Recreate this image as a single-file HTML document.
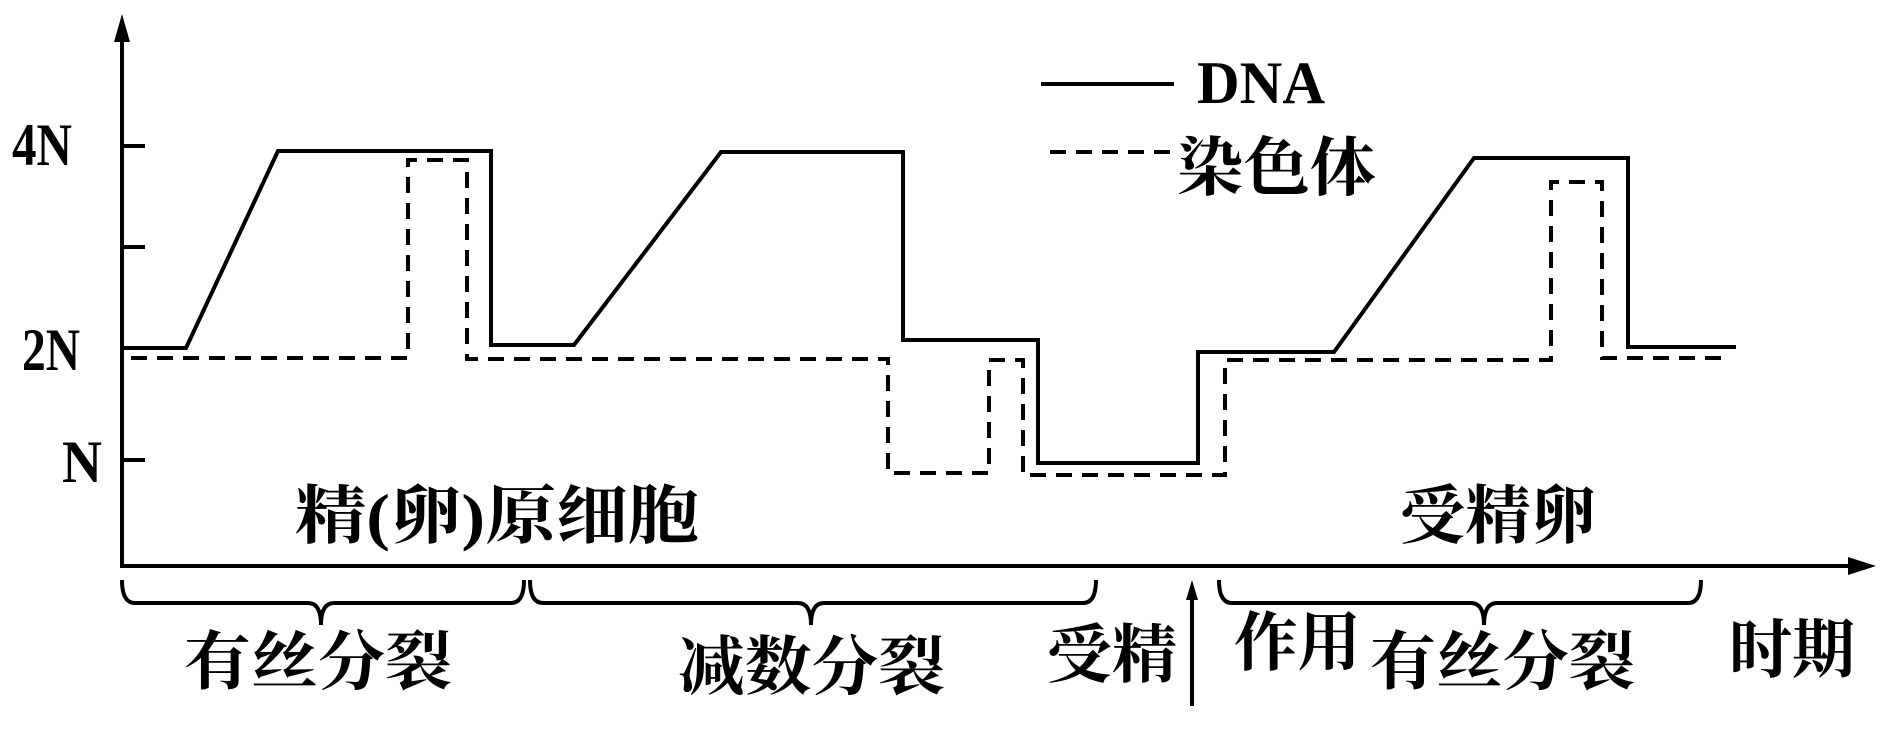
<!DOCTYPE html>
<html><head><meta charset="utf-8"><style>
html,body{margin:0;padding:0;background:#fff;}
svg{display:block;}
text{font-family:"Liberation Serif","Noto Serif CJK SC",serif;fill:#000;}
</style></head><body>
<svg width="1890" height="731" viewBox="0 0 1890 731" xmlns="http://www.w3.org/2000/svg">
<g stroke="#000" stroke-width="4" fill="none">
<line x1="122" y1="30" x2="122" y2="566"/>
<line x1="120" y1="566" x2="1860" y2="566"/>
<line x1="122" y1="146" x2="145" y2="146"/>
<line x1="122" y1="247" x2="145" y2="247"/>
<line x1="122" y1="348" x2="145" y2="348"/>
<line x1="122" y1="460" x2="145" y2="460"/>
<polyline points="124,348 186,348 278,151 491,151 491,345 574,345 721,152 903,152 903,340 1038,340 1038,463 1198,463 1198,352 1334,352 1474,158 1628,158 1628,347 1736,347"/>
<polyline stroke-dasharray="16,10" points="131,358 408,358 408,160 467,160 467,359 888,359 888,473 989,473 989,360 1023,360 1023,475 1032,475 1225,475 1225,360 1551,360 1551,182 1602,182 1602,358 1729,358"/>
<line x1="1041" y1="84" x2="1174" y2="84"/>
<line x1="1050" y1="152" x2="1171" y2="152" stroke-dasharray="16,10"/>
<path d="M122,580 Q122,603 135,603 L308,603 Q321,603 321,625 Q321,603 334,603 L511,603 Q524,603 524,580"/>
<path d="M530,580 Q530,603 543,603 L798,603 Q811,603 811,625 Q811,603 824,603 L1083,603 Q1096,603 1096,580"/>
<path d="M1219,580 Q1219,603 1232,603 L1471,603 Q1484,603 1484,625 Q1484,603 1497,603 L1688,603 Q1701,603 1701,580"/>
<line x1="1192" y1="706" x2="1192" y2="592"/>
</g>
<polygon points="122,14 114,42 130,42" fill="#000"/>
<polygon points="1876,566 1848,557 1848,575" fill="#000"/>
<polygon points="1192,580 1186,600 1198,600" fill="#000"/>
<g font-size="60" font-weight="bold">
<text x="12" y="165" textLength="60" lengthAdjust="spacingAndGlyphs">4N</text>
<text x="22" y="370" textLength="58" lengthAdjust="spacingAndGlyphs">2N</text>
<text x="62" y="482" textLength="40" lengthAdjust="spacingAndGlyphs">N</text>
<text x="1197" y="103" textLength="128" lengthAdjust="spacingAndGlyphs">DNA</text>
</g>
<g font-size="64" font-weight="bold">
<text x="1177" y="190" textLength="199" lengthAdjust="spacingAndGlyphs">染色体</text>
<text x="295" y="538" textLength="404" lengthAdjust="spacingAndGlyphs">精(卵)原细胞</text>
<text x="1400" y="538" textLength="196" lengthAdjust="spacingAndGlyphs">受精卵</text>
<text x="184" y="684" textLength="268" lengthAdjust="spacingAndGlyphs">有丝分裂</text>
<text x="678" y="689" textLength="267" lengthAdjust="spacingAndGlyphs">减数分裂</text>
<text x="1047" y="677" textLength="130" lengthAdjust="spacingAndGlyphs">受精</text>
<text x="1234" y="665" textLength="127" lengthAdjust="spacingAndGlyphs">作用</text>
<text x="1370" y="684" textLength="265" lengthAdjust="spacingAndGlyphs">有丝分裂</text>
<text x="1729" y="672" textLength="126" lengthAdjust="spacingAndGlyphs">时期</text>
</g>
</svg>
</body></html>
